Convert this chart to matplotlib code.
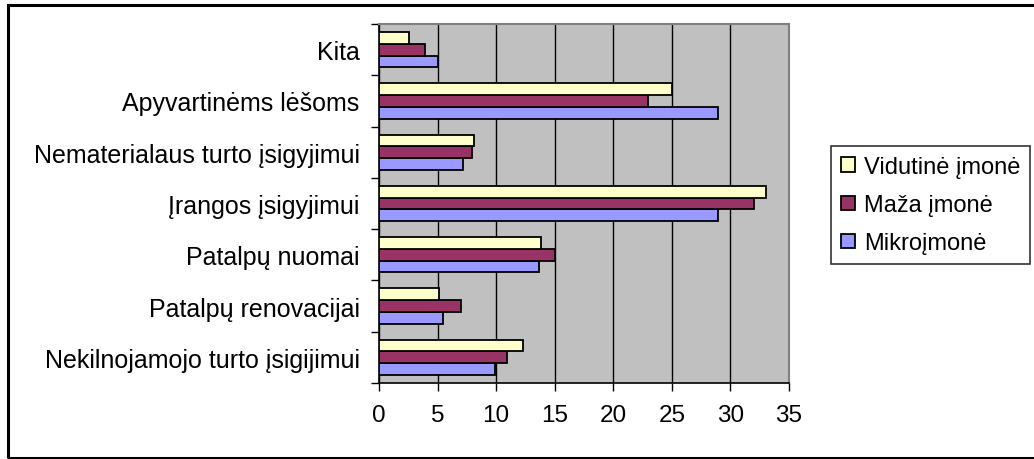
import numpy as np
import matplotlib
matplotlib.use("Agg")
import matplotlib.pyplot as plt
from matplotlib.patches import Rectangle

# categories from bottom to top
categories = [
    "Nekilnojamojo turto įsigijimui",
    "Patalpų renovacijai",
    "Patalpų nuomai",
    "Įrangos įsigyjimui",
    "Nematerialaus turto įsigyjimui",
    "Apyvartinėms lėšoms",
    "Kita",
]
mikro = [9.9, 5.5, 13.7, 28.95, 7.15, 28.95, 5.0]
maza = [10.9, 7.0, 15.0, 32.05, 7.95, 23.0, 3.9]
vidutine = [12.25, 5.15, 13.85, 33.05, 8.15, 25.0, 2.6]
series_names = ["Mikroįmonė", "Maža įmonė", "Vidutinė įmonė"]
xticks = [0, 5, 10, 15, 20, 25, 30, 35]

plt.rcParams['font.family'] = ['Liberation Sans', 'DejaVu Sans']

W, H = 1034, 460
fig = plt.figure(figsize=(W / 100, H / 100), dpi=100)
ax = fig.add_axes([379 / W, 1 - 384 / H, 410 / W, 359 / H])

# outer frame
fig.patches.append(Rectangle((8 / W, 1 - 459 / H), 1.1, 453 / H,
                             transform=fig.transFigure, fill=False,
                             edgecolor='black', linewidth=2.2, clip_on=False))

ax.set_facecolor('#C0C0C0')
y = np.arange(len(categories))
h = 0.23
colors = ['#9999FF', '#993366', '#FFFFCC']
bars = []
for i, (vals, name, c) in enumerate(zip([mikro, maza, vidutine], series_names, colors)):
    b = ax.barh(y + (i - 1) * h, vals, height=h, color=c, edgecolor='black',
                linewidth=1.3, label=name, zorder=3)
    bars.append(b)

ax.set_xlim(0, 35)
ax.set_ylim(-0.5, len(categories) - 0.5)
ax.set_xticks(xticks)
ax.xaxis.grid(True, color='black', linewidth=1.0, zorder=1)
ax.set_axisbelow(True)

ax.set_yticks(y)
ax.set_yticklabels(categories)
ax.set_yticks(np.arange(len(categories) + 1) - 0.5, minor=True)
ax.tick_params(axis='y', which='major', length=0, pad=14, labelsize=18)
ax.tick_params(axis='y', which='minor', length=5.8, width=1, color='black')
ax.tick_params(axis='x', length=5.8, width=1, pad=9, labelsize=17.5)

for s in ['left', 'bottom']:
    ax.spines[s].set_color('black')
    ax.spines[s].set_linewidth(1.2)
for s in ['top', 'right']:
    ax.spines[s].set_color('#808080')
    ax.spines[s].set_linewidth(1.5)

handles = [bars[2], bars[1], bars[0]]
leg = fig.legend(handles, [series_names[2], series_names[1], series_names[0]],
                 loc='upper left', bbox_to_anchor=(831 / W, 1 - 147 / H),
                 fontsize=17, frameon=True, fancybox=False, edgecolor='black',
                 handlelength=0.6, handleheight=0.55, handletextpad=0.38,
                 labelspacing=0.68, borderpad=0.42, borderaxespad=0)
leg.get_frame().set_linewidth(1.2)

fig.savefig("out.png", dpi=100, facecolor='white')
